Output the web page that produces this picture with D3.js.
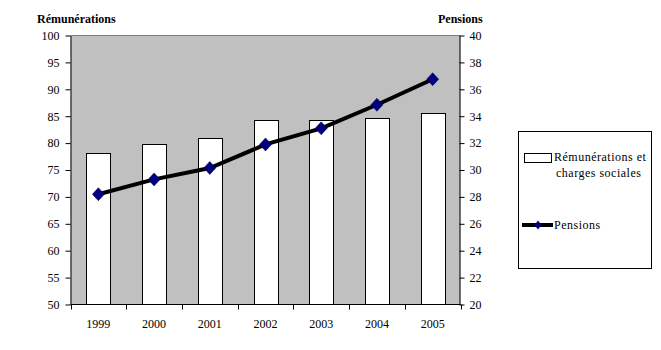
<!DOCTYPE html>
<html>
<head>
<meta charset="utf-8">
<script src="https://cdn.jsdelivr.net/npm/d3@7"></script>
<style>
  html, body { margin: 0; padding: 0; background: #fff; }
  svg { display: block; }
</style>
</head>
<body>
<svg id="chart" width="661" height="350"></svg>
<script>
const years = ["1999", "2000", "2001", "2002", "2003", "2004", "2005"];
const remunerations = [78.2, 79.9, 80.9, 84.3, 84.3, 84.7, 85.6];
const pensions = [28.2, 29.3, 30.15, 31.9, 33.1, 34.85, 36.75];
const leftTicks = [50, 55, 60, 65, 70, 75, 80, 85, 90, 95, 100];
const rightTicks = [20, 22, 24, 26, 28, 30, 32, 34, 36, 38, 40];
const leftTitle = "Rémunérations";
const rightTitle = "Pensions";
const legendBarLines = ["Rémunérations et", "charges sociales"];
const legendLineLabel = "Pensions";

const FONT = "'Liberation Serif', 'Times New Roman', serif";
const svg = d3.select("#chart");
const plot = { left: 70.5, right: 460.5, top: 35.5, bottom: 304.5 };

const x = d3.scaleBand().domain(years).range([plot.left, plot.right]).padding(0);
const yL = d3.scaleLinear().domain([50, 100]).range([plot.bottom, plot.top]);
const yR = d3.scaleLinear().domain([20, 40]).range([plot.bottom, plot.top]);

function styleText(sel) {
  sel.style("font-family", FONT).style("font-size", "12px").style("fill", "#000");
  return sel;
}

// plot background
svg.append("rect")
  .attr("x", plot.left).attr("y", plot.top)
  .attr("width", plot.right - plot.left).attr("height", plot.bottom - plot.top)
  .attr("fill", "#C0C0C0");
svg.append("line")
  .attr("x1", plot.left).attr("x2", plot.right)
  .attr("y1", plot.top).attr("y2", plot.top)
  .attr("stroke", "#808080").attr("stroke-width", 1);

// bars
const barW = 24;
svg.append("g").selectAll("rect")
  .data(years)
  .join("rect")
  .attr("x", d => Math.round(x(d) + x.bandwidth() / 2 - barW / 2) + 0.5)
  .attr("y", (d, i) => Math.round(yL(remunerations[i])) + 0.5)
  .attr("width", barW)
  .attr("height", (d, i) => plot.bottom - Math.round(yL(remunerations[i])) - 0.5)
  .attr("fill", "#fff")
  .attr("stroke", "#000")
  .attr("stroke-width", 1);

// left axis
const gL = svg.append("g")
  .attr("transform", `translate(${plot.left},0)`)
  .call(d3.axisLeft(yL).tickValues(leftTicks).tickSize(5).tickPadding(6).tickSizeOuter(0));
gL.select(".domain").attr("stroke", "#000");
gL.selectAll(".tick line").attr("stroke", "#000");
styleText(gL.selectAll("text"));

// right axis
const gR = svg.append("g")
  .attr("transform", `translate(${plot.right - 1},0)`)
  .call(d3.axisRight(yR).tickValues(rightTicks).tickSize(5).tickPadding(5).tickSizeOuter(0));
gR.select(".domain").attr("stroke", "#000");
gR.selectAll(".tick line").attr("stroke", "#000");
styleText(gR.selectAll("text"));

// bottom axis: line + ticks at category boundaries
svg.append("line")
  .attr("x1", plot.left).attr("x2", plot.right)
  .attr("y1", plot.bottom).attr("y2", plot.bottom)
  .attr("stroke", "#000");
const boundaries = years.map(d => x(d)).concat([x(years[years.length - 1]) + x.bandwidth()]);
svg.append("g").selectAll("line")
  .data(boundaries)
  .join("line")
  .attr("x1", d => Math.round(d) + 0.5).attr("x2", d => Math.round(d) + 0.5)
  .attr("y1", plot.bottom).attr("y2", plot.bottom + 5)
  .attr("stroke", "#000");
styleText(svg.append("g").selectAll("text")
  .data(years)
  .join("text")
  .attr("x", d => x(d) + x.bandwidth() / 2)
  .attr("y", 328)
  .attr("text-anchor", "middle")
  .text(d => d));

// pensions line
const line = d3.line()
  .x((d, i) => x(years[i]) + x.bandwidth() / 2)
  .y(d => yR(d));
svg.append("path")
  .datum(pensions)
  .attr("d", line)
  .attr("fill", "none")
  .attr("stroke", "#000")
  .attr("stroke-width", 4);
const diamond = (cx, cy, w, h) => `M${cx},${cy - h}L${cx + w},${cy}L${cx},${cy + h}L${cx - w},${cy}Z`;
svg.append("g").selectAll("path")
  .data(pensions)
  .join("path")
  .attr("d", (d, i) => diamond(x(years[i]) + x.bandwidth() / 2, yR(d), 6, 6.5))
  .attr("fill", "#000080")
  .attr("stroke", "#000040")
  .attr("stroke-width", 0.5);

// titles
styleText(svg.append("text").attr("x", 37).attr("y", 23).style("font-weight", "bold").text(leftTitle)).style("font-weight", "bold");
styleText(svg.append("text").attr("x", 438).attr("y", 23).text(rightTitle)).style("font-weight", "bold");

// legend
const lg = svg.append("g");
lg.append("rect")
  .attr("x", 518.5).attr("y", 131.5).attr("width", 133).attr("height", 137)
  .attr("fill", "#fff").attr("stroke", "#000");
lg.append("rect")
  .attr("x", 524.5).attr("y", 153.5).attr("width", 27).attr("height", 9)
  .attr("fill", "#fff").attr("stroke", "#000");
styleText(lg.append("text").attr("x", 554).attr("y", 161).text(legendBarLines[0])).style("letter-spacing", "0.5px");
styleText(lg.append("text").attr("x", 556).attr("y", 177).text(legendBarLines[1])).style("letter-spacing", "0.5px");
lg.append("line")
  .attr("x1", 522).attr("x2", 553).attr("y1", 225).attr("y2", 225)
  .attr("stroke", "#000").attr("stroke-width", 4);
lg.append("path").attr("d", diamond(538, 225, 3.5, 4.5)).attr("fill", "#000080");
styleText(lg.append("text").attr("x", 554).attr("y", 229).text(legendLineLabel)).style("letter-spacing", "0.5px");
</script>
</body>
</html>
